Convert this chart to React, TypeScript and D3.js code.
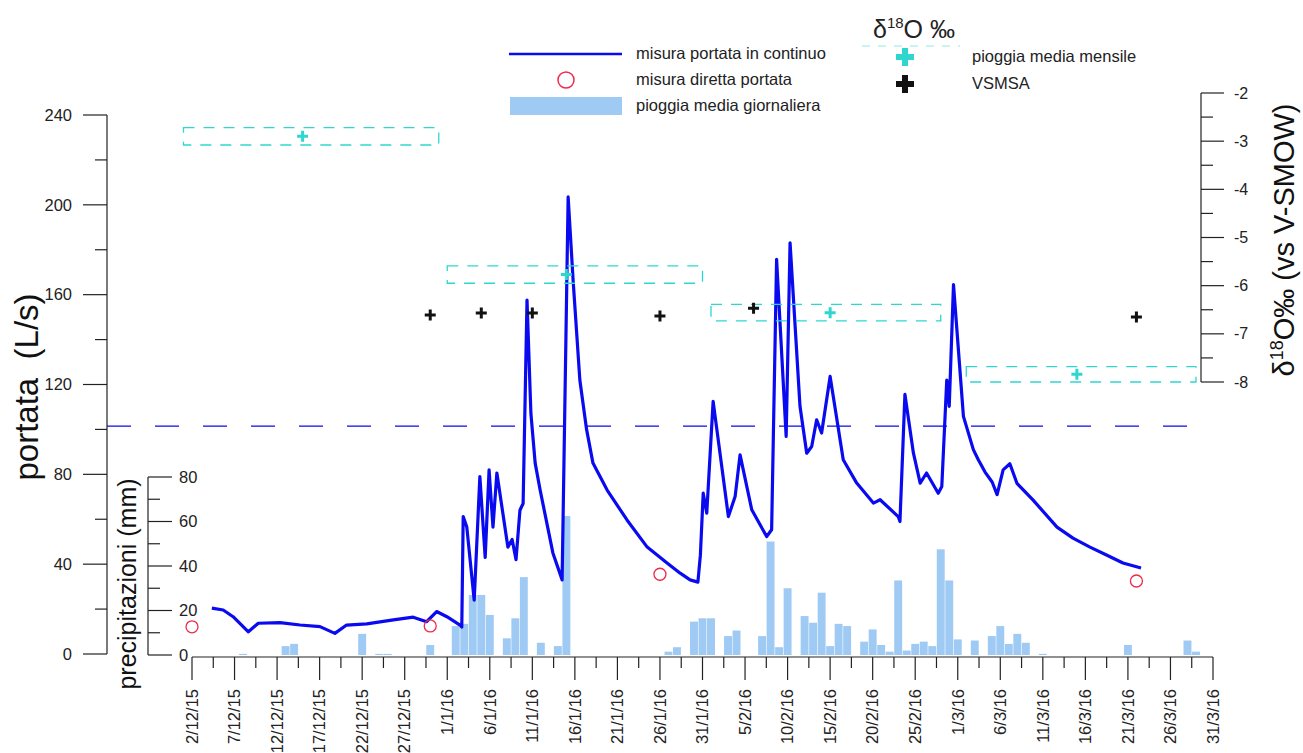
import React from "react";
import * as d3 from "d3";

const W = 1303;
const H = 753;
const FONT = "'Liberation Sans', Arial, Helvetica, sans-serif";

// continuous discharge record (L/s)
const flowTimes = [
  "2015-12-04T08", "2015-12-05T16", "2015-12-06T20", "2015-12-08T15", "2015-12-09T19",
  "2015-12-12T08", "2015-12-14T17", "2015-12-17T01", "2015-12-18T19", "2015-12-20T04",
  "2015-12-22T13", "2015-12-25T16", "2015-12-28T00", "2015-12-29T14", "2015-12-30T18",
  "2015-12-31T23", "2016-01-02T12", "2016-01-02T17", "2016-01-02T21", "2016-01-03T07",
  "2016-01-04T04", "2016-01-04T20", "2016-01-05T11", "2016-01-05T22", "2016-01-06T09",
  "2016-01-06T20", "2016-01-08T03", "2016-01-08T15", "2016-01-09T02", "2016-01-09T13",
  "2016-01-09T22", "2016-01-10T09", "2016-01-10T20", "2016-01-11T08", "2016-01-11T22",
  "2016-01-13T10", "2016-01-14T12", "2016-01-15T05", "2016-01-15T19", "2016-01-16T14",
  "2016-01-17T09", "2016-01-18T03", "2016-01-19T19", "2016-01-22T03", "2016-01-24T12",
  "2016-01-26T20", "2016-01-28T09", "2016-01-29T13", "2016-01-30T11", "2016-01-30T18",
  "2016-01-31T02", "2016-01-31T12", "2016-02-01T06", "2016-02-03T01", "2016-02-03T20",
  "2016-02-04T10", "2016-02-05T19", "2016-02-07T13", "2016-02-08T03", "2016-02-08T17",
  "2016-02-09T20", "2016-02-10T07", "2016-02-11T11", "2016-02-12T06", "2016-02-12T20",
  "2016-02-13T10", "2016-02-14T00", "2016-02-15T00", "2016-02-16T13", "2016-02-18T03",
  "2016-02-20T02", "2016-02-20T21", "2016-02-23T00", "2016-02-23T05", "2016-02-23T19",
  "2016-02-24T19", "2016-02-25T14", "2016-02-26T08", "2016-02-27T17", "2016-02-28T03",
  "2016-02-28T17", "2016-02-29T00", "2016-02-29T12", "2016-03-01T16", "2016-03-02T20",
  "2016-03-03T10", "2016-03-04T05", "2016-03-05T01", "2016-03-05T15", "2016-03-06T08",
  "2016-03-07T03", "2016-03-07T23", "2016-03-09T20", "2016-03-12T16", "2016-03-14T13",
  "2016-03-16T13", "2016-03-18T13", "2016-03-20T10", "2016-03-22T13",
];
const flowValues = [
  20.4, 19.6, 16.6, 9.9, 13.7,
  14, 12.9, 12.2, 9.2, 12.9,
  13.4, 15.2, 16.4, 14.4, 18.9,
  16.6, 12.9, 12, 61.2, 56.7,
  24, 79, 43, 82, 56.5,
  80.6, 47.6, 51, 42, 64,
  67, 157.6, 107, 85, 73,
  45, 33, 203.5, 166.5, 122,
  100, 85, 73, 59.7, 47.6,
  40.5, 36, 33, 32, 44,
  71.6, 62.7, 112.5, 61.2, 70.1,
  88.7, 64.2, 52.3, 55.3, 175.7,
  96.9, 183.1, 110.3, 89.4, 92.4,
  104.3, 98.4, 123.6, 86.5, 76.1,
  67.2, 68.7, 61.2, 59, 115.6,
  89.4, 76.1, 80.6, 71.6, 74.6,
  122, 110.3, 164.5, 105.8, 91,
  86.5, 81, 76.6, 71, 82,
  84.7, 76, 68.6, 56.5, 51.6,
  47.6, 44, 40.5, 38.3,
];

// direct discharge measurements (L/s)
const directDates = ["2015-12-02", "2015-12-30", "2016-01-26", "2016-03-22"];
const directValues = [12.1, 12.5, 35.5, 32.5];

// daily mean rainfall (mm)
const rainDates = [
  "2015-12-08", "2015-12-13", "2015-12-14", "2015-12-22", "2015-12-24", "2015-12-25",
  "2015-12-30", "2016-01-02", "2016-01-03", "2016-01-04", "2016-01-05", "2016-01-06",
  "2016-01-08", "2016-01-09", "2016-01-10", "2016-01-12", "2016-01-14", "2016-01-15",
  "2016-01-27", "2016-01-28", "2016-01-30", "2016-01-31", "2016-02-01", "2016-02-03",
  "2016-02-04", "2016-02-07", "2016-02-08", "2016-02-09", "2016-02-10", "2016-02-12",
  "2016-02-13", "2016-02-14", "2016-02-15", "2016-02-16", "2016-02-17", "2016-02-19",
  "2016-02-20", "2016-02-21", "2016-02-22", "2016-02-23", "2016-02-24", "2016-02-25",
  "2016-02-26", "2016-02-27", "2016-02-28", "2016-02-29", "2016-03-01", "2016-03-03",
  "2016-03-05", "2016-03-06", "2016-03-07", "2016-03-08", "2016-03-09", "2016-03-11",
  "2016-03-21", "2016-03-28", "2016-03-29",
];
const rainValues = [
  0.5, 4, 5, 9.5, 0.5, 0.5,
  4.5, 13, 14, 27, 27, 18,
  7.5, 16.5, 35, 5.5, 4, 62.5,
  1.5, 3.5, 15, 16.5, 16.5, 8.5,
  11, 8.5, 51, 3.5, 30, 17.5,
  14.5, 28, 4, 14, 13, 6,
  11.5, 4.5, 1.5, 33.5, 2, 5,
  6, 4, 47.5, 33.5, 7, 6.5,
  8.5, 13, 5, 9.5, 5.5, 0.5,
  4.5, 6.5, 1.5,
];

// monthly rain d18O (per mil)
const rainMonthStart = ["2015-12-01", "2016-01-01", "2016-02-01", "2016-03-02"];
const rainMonthEnd = ["2015-12-31", "2016-01-31", "2016-02-28", "2016-03-29"];
const rainMonthMid = ["2015-12-15", "2016-01-15", "2016-02-15", "2016-03-15"];
const rainD18O = [-2.9, -5.77, -6.56, -7.84];
const rainD18OErr = [0.18, 0.18, 0.17, 0.16];

// spring water d18O (per mil)
const springDates = ["2015-12-30", "2016-01-05", "2016-01-11", "2016-01-26", "2016-02-06", "2016-03-22"];
const springD18O = [-6.61, -6.57, -6.57, -6.63, -6.47, -6.65];

const refFlow = 101.5;

const parseT = d3.utcParse("%Y-%m-%dT%H");
const parseD = d3.utcParse("%Y-%m-%d");
const fmt = d3.utcFormat("%-d/%-m/%y");

const t0 = parseD("2015-12-02")!;
const t1 = parseD("2016-03-31")!;

const x = d3.scaleUtc().domain([t0, t1]).range([192, 1213]);
const yQ = d3.scaleLinear().domain([0, 240]).range([654, 115]);
const yP = d3.scaleLinear().domain([0, 80]).range([655, 477]);
const yD = d3.scaleLinear().domain([-8, -2]).range([382, 93]);

const BLUE = "#0a0af0";
const CYAN = "#2fd6d0";
const RAIN = "#9ecaf4";
const RED = "#ee2a4a";

const cross = (cx: number, cy: number, s: number) =>
  `M${cx - s},${cy}H${cx + s}M${cx},${cy - s}V${cy + s}`;

const flowPts = flowTimes.map((t, i) => [parseT(t)!, flowValues[i]] as [Date, number]);
const flowLine = d3
  .line<[Date, number]>()
  .x((d) => x(d[0]))
  .y((d) => yQ(d[1]));

export default function App() {
  const dayW = x(d3.utcDay.offset(t0, 1)) - x(t0);
  const xTicks = d3.range(0, 121, 2.5).map((d) => d3.utcHour.offset(t0, d * 24));

  return (
    <div style={{ position: "absolute", left: 0, top: 0 }}>
      <svg width={W} height={H} style={{ display: "block", background: "#fff", fontFamily: FONT }}>
        {/* rain bars */}
        {rainDates.map((d, i) => {
          const cx = x(parseD(d)!);
          return (
            <rect
              key={d}
              x={cx - dayW / 2 + 0.3}
              y={yP(rainValues[i])}
              width={dayW - 0.6}
              height={yP(0) - yP(rainValues[i])}
              fill={RAIN}
            />
          );
        })}

        {/* reference discharge */}
        <line x1={107} x2={1192} y1={yQ(refFlow)} y2={yQ(refFlow)} stroke={BLUE} strokeWidth={1.2} strokeDasharray="24 24" />

        {/* discharge */}
        <path d={flowLine(flowPts) ?? ""} fill="none" stroke={BLUE} strokeWidth={3.2} strokeLinejoin="round" />

        {directDates.map((d, i) => (
          <circle key={d} cx={x(parseD(d)!)} cy={yQ(directValues[i])} r={6} fill="none" stroke={RED} strokeWidth={1.3} />
        ))}

        {/* monthly rain isotope boxes */}
        {rainD18O.map((v, i) => {
          const xa = x(parseD(rainMonthStart[i])!);
          const xb = x(parseD(rainMonthEnd[i])!);
          return (
            <g key={i}>
              <rect
                x={xa}
                y={yD(v + rainD18OErr[i])}
                width={xb - xa}
                height={yD(v - rainD18OErr[i]) - yD(v + rainD18OErr[i])}
                fill="none"
                stroke={CYAN}
                strokeWidth={1.3}
                strokeDasharray="11 9"
              />
              <path d={cross(x(parseD(rainMonthMid[i])!), yD(v), 5.5)} stroke={CYAN} strokeWidth={3} />
            </g>
          );
        })}

        {springDates.map((d, i) => (
          <path key={d} d={cross(x(parseD(d)!), yD(springD18O[i]), 5.5)} stroke="#111" strokeWidth={3} />
        ))}

        {/* left axis */}
        <g stroke="#222" strokeWidth={1.2}>
          <line x1={107} x2={107} y1={yQ(0)} y2={yQ(240)} />
          {d3.range(0, 241, 20).map((v) => (
            <line key={v} x1={v % 40 === 0 ? 83 : 95} x2={107} y1={yQ(v)} y2={yQ(v)} />
          ))}
        </g>
        {d3.range(0, 241, 40).map((v) => (
          <text key={v} x={72} y={yQ(v)} dy="0.35em" textAnchor="end" fontSize={16.5} fill="#222">
            {v}
          </text>
        ))}
        <text transform="translate(38,387) rotate(-90)" textAnchor="middle" fontSize={33} fill="#111" style={{ whiteSpace: "pre" }}>
          {"portata  (L/s)"}
        </text>

        {/* rain axis */}
        <g stroke="#222" strokeWidth={1.2}>
          <line x1={148} x2={148} y1={yP(0)} y2={yP(80)} />
          {d3.range(0, 81, 10).map((v) => (
            <line key={v} x1={148} x2={v % 20 === 0 ? 172 : 160} y1={yP(v)} y2={yP(v)} />
          ))}
        </g>
        {d3.range(0, 81, 20).map((v) => (
          <text key={v} x={179} y={yP(v)} dy="0.35em" fontSize={16.5} fill="#222">
            {v}
          </text>
        ))}
        <text transform="translate(136,584) rotate(-90)" textAnchor="middle" fontSize={25} fill="#111">
          precipitazioni (mm)
        </text>

        {/* right axis */}
        <g stroke="#222" strokeWidth={1.2}>
          <line x1={1201} x2={1201} y1={yD(-8)} y2={yD(-2)} />
          {d3.range(-8, -1.9, 0.5).map((v) => (
            <line key={v} x1={1201} x2={Number.isInteger(v) ? 1224 : 1213} y1={yD(v)} y2={yD(v)} />
          ))}
        </g>
        {d3.range(-8, -1.9, 1).map((v) => (
          <text key={v} x={1234} y={yD(v)} dy="0.35em" fontSize={16} fill="#222">
            {v}
          </text>
        ))}
        <text transform="translate(1294,240) rotate(-90)" textAnchor="middle" fontSize={29} fill="#111">
          δ<tspan fontSize={18} dy={-11}>18</tspan>
          <tspan dy={11}>O‰ (vs V-SMOW)</tspan>
        </text>

        {/* time axis */}
        <g stroke="#222" strokeWidth={1.2}>
          <line x1={x(t0)} x2={x(t1)} y1={657} y2={657} />
          {xTicks.map((t, i) => (
            <line key={i} x1={x(t)} x2={x(t)} y1={657} y2={i % 2 === 0 ? 680 : 668} />
          ))}
        </g>
        {xTicks
          .filter((_, i) => i % 2 === 0)
          .map((t, i) => (
            <text key={i} transform={`translate(${x(t)},689) rotate(-90)`} dy="0.35em" textAnchor="end" fontSize={16.5} fill="#222">
              {fmt(t)}
            </text>
          ))}

        {/* legend */}
        <line x1={509} x2={622} y1={54} y2={54} stroke={BLUE} strokeWidth={2.5} />
        <text x={636} y={59} fontSize={16.5} fill="#222">misura portata in continuo</text>
        <circle cx={566} cy={80} r={8} fill="none" stroke={RED} strokeWidth={1.5} />
        <text x={636} y={85} fontSize={16.5} fill="#222">misura diretta portata</text>
        <rect x={510} y={97} width={112} height={18} fill={RAIN} />
        <text x={636} y={111} fontSize={16.5} fill="#222">pioggia media giornaliera</text>

        <text x={873} y={38} fontSize={25} fill="#222">
          δ<tspan fontSize={15} dy={-10}>18</tspan>
          <tspan dy={10}>O ‰</tspan>
        </text>
        <line x1={862} x2={960} y1={46} y2={46} stroke={CYAN} strokeWidth={1} strokeDasharray="8 8" opacity={0.5} />
        <path d={cross(905, 57, 9)} stroke={CYAN} strokeWidth={6} />
        <text x={972} y={62} fontSize={16.5} fill="#222">pioggia media mensile</text>
        <path d={cross(905, 84, 9)} stroke="#111" strokeWidth={6} />
        <text x={972} y={89} fontSize={16.5} fill="#222">VSMSA</text>
      </svg>
    </div>
  );
}
